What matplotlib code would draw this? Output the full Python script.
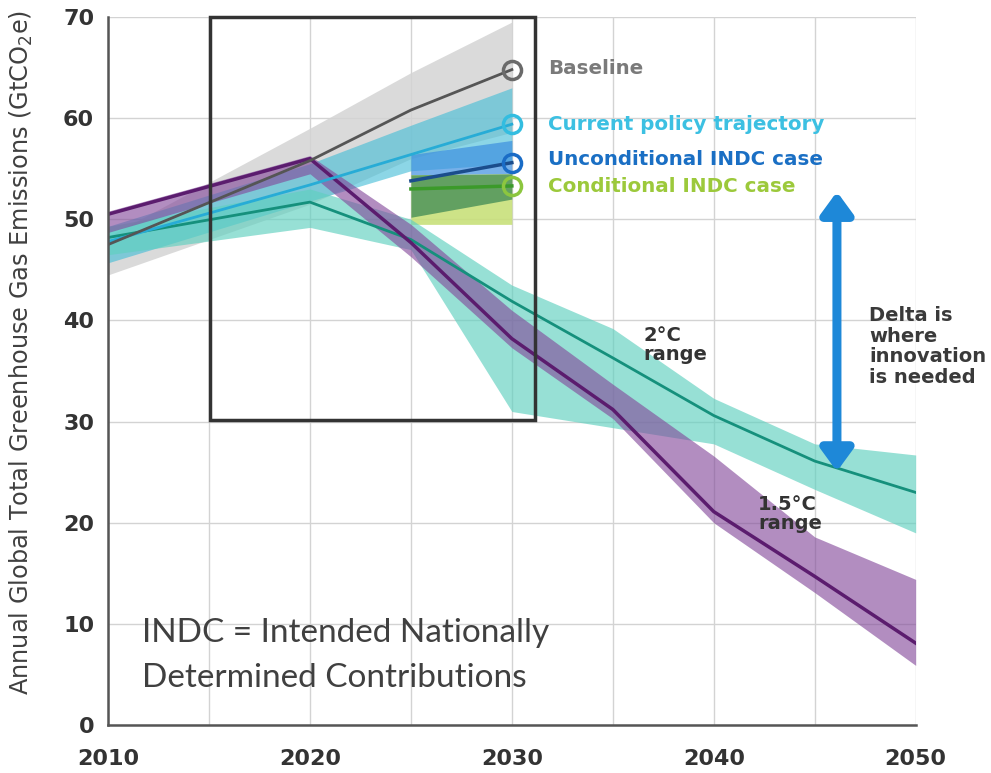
import matplotlib.pyplot as plt
from matplotlib.patches import FancyArrowPatch, Rectangle

# baseline
years_base = [2010, 2020, 2025, 2030]
baseline = [47.5, 55.8, 60.8, 64.8]
baseline_lo = [44.5, 51.5, 56.0, 58.6]
baseline_hi = [48.3, 59.0, 64.5, 69.5]

# current policy trajectory
years_cp = [2010, 2020, 2025, 2030]
current = [47.8, 53.4, 56.4, 59.4]
current_lo = [45.7, 51.8, 54.8, 55.5]
current_hi = [49.3, 55.5, 59.3, 63.0]

# INDC cases
years_indc = [2025, 2030]
uncond = [53.8, 55.6]
uncond_lo = [54.4, 54.5]
uncond_hi = [56.4, 57.8]
cond = [53.0, 53.3]
cond_lo = [50.2, 52.0]
cond_hi = [54.4, 54.5]
cond_wide_lo = [49.5, 49.5]

# 2C and 1.5C ranges
years_path = [2010, 2020, 2025, 2030, 2035, 2040, 2045, 2050]
two_c = [48.2, 51.7, 48.0, 41.9, 36.3, 30.6, 26.1, 23.0]
two_c_lo = [46.5, 49.2, 47.0, 31.0, 29.4, 27.8, 23.3, 19.0]
two_c_hi = [49.3, 53.0, 50.0, 43.5, 39.2, 32.3, 27.8, 26.7]
one5_c = [50.5, 56.0, 47.7, 38.2, 31.2, 21.1, 14.7, 8.1]
one5_c_lo = [48.7, 54.5, 46.3, 37.3, 30.3, 20.0, 13.1, 5.9]
one5_c_hi = [50.8, 56.3, 49.5, 41.0, 33.7, 26.6, 18.6, 14.4]

x_ticks = [2010, 2020, 2030, 2040, 2050]
y_ticks = [0, 10, 20, 30, 40, 50, 60, 70]

fig = plt.figure(figsize=(9.91, 7.73), dpi=100)
ax = fig.add_axes([0.109, 0.062, 0.815, 0.916])

ax.fill_between(years_base, baseline_lo, baseline_hi, color='#d4d4d4', alpha=0.85, lw=0)
ax.fill_between(years_cp, current_lo, current_hi, color='#3fbcd6', alpha=0.6, lw=0)
ax.fill_between(years_indc, uncond_lo, uncond_hi, color='#3d8fe0', alpha=0.7, lw=0)
ax.fill_between(years_indc, cond_wide_lo, cond_hi, color='#c8e07a', alpha=0.9, lw=0)
ax.fill_between(years_indc, cond_lo, cond_hi, color='#3f8a55', alpha=0.75, lw=0)
ax.fill_between(years_path, two_c_lo, two_c_hi, color='#5fd0bf', alpha=0.65, lw=0)
ax.fill_between(years_path, one5_c_lo, one5_c_hi, color='#83489a', alpha=0.62, lw=0)

ax.plot(years_path, two_c, color='#15907c', lw=2)
ax.plot(years_path, one5_c, color='#5b1c6e', lw=2.5)
ax.plot(years_cp, current, color='#27acd6', lw=2)
ax.plot(years_base, baseline, color='#555555', lw=2)
ax.plot(years_indc, uncond, color='#1b4d8c', lw=2.5)
ax.plot(years_indc, cond, color='#3b9a2a', lw=2.5)

markers = [(baseline[-1], '#6a6a6a'), (current[-1], '#33bde0'),
           (uncond[-1], '#1a6cc6'), (cond[-1], '#8cc63f')]
for val, col in markers:
    ax.plot(2030, val, 'o', ms=13, mfc='none', mec=col, mew=2.5, zorder=5)

labels = ['Baseline', 'Current policy trajectory',
          'Unconditional INDC case', 'Conditional INDC case']
label_colors = ['#7a7a7a', '#3cc0e2', '#1a6fc4', '#9cc93b']
label_y = [64.9, 59.4, 55.9, 53.2]
for txt, col, yy in zip(labels, label_colors, label_y):
    ax.text(2031.8, yy, txt, color=col, fontsize=14.3, fontweight='bold',
            va='center', ha='left')

# box around the near-term window
ax.add_patch(Rectangle((2015.05, 30.2), 16.1, 39.8, fill=False,
                       ec='#333333', lw=2.5, zorder=6, clip_on=False))

arrow = FancyArrowPatch((2046.1, 24.8), (2046.1, 53.0),
                        arrowstyle='<|-|>,head_length=1.3,head_width=0.95',
                        mutation_scale=10, color='#1e88d8', lw=6.5,
                        zorder=7)
ax.add_patch(arrow)

ax.text(2047.7, 41.4, 'Delta is\nwhere\ninnovation\nis needed', color='#3a3a3a',
        fontsize=14, fontweight='bold', va='top', ha='left', linespacing=1.1)
ax.text(2036.5, 39.5, '2°C\nrange', color='#333333', fontsize=14,
        fontweight='bold', va='top', ha='left', linespacing=1.0)
ax.text(2042.2, 22.7, '1.5°C\nrange', color='#333333', fontsize=14,
        fontweight='bold', va='top', ha='left', linespacing=1.0)

ax.text(2011.7, 9.1, 'INDC = Intended Nationally', family='Lato',
        fontsize=24, color='#404040', va='center', ha='left')
ax.text(2011.7, 4.7, 'Determined Contributions', family='Lato',
        fontsize=24, color='#404040', va='center', ha='left')

ax.set_xlim(2010, 2050)
ax.set_ylim(0, 70)
ax.set_xticks(x_ticks)
ax.set_yticks(y_ticks)
ax.set_xticks(range(2010, 2051, 5), minor=True)
ax.grid(which='both', axis='x', color='#d3d3d3', lw=1)
ax.grid(which='major', axis='y', color='#d3d3d3', lw=1)
ax.set_axisbelow(True)
ax.tick_params(which='both', length=0)
ax.tick_params(axis='x', pad=17)
ax.tick_params(axis='y', pad=10)
for lab in ax.get_xticklabels() + ax.get_yticklabels():
    lab.set_fontweight('bold')
    lab.set_fontsize(16)
    lab.set_color('#333333')

for side in ['top', 'right']:
    ax.spines[side].set_visible(False)
for side in ['left', 'bottom']:
    ax.spines[side].set_color('#555555')
    ax.spines[side].set_linewidth(1.8)

ax.set_ylabel('Annual Global Total Greenhouse Gas Emissions (GtCO$_2$e)',
              fontsize=17.3, color='#404040')
ax.yaxis.set_label_coords(-0.091, 0.527)

fig.savefig('out.png', dpi=100)
